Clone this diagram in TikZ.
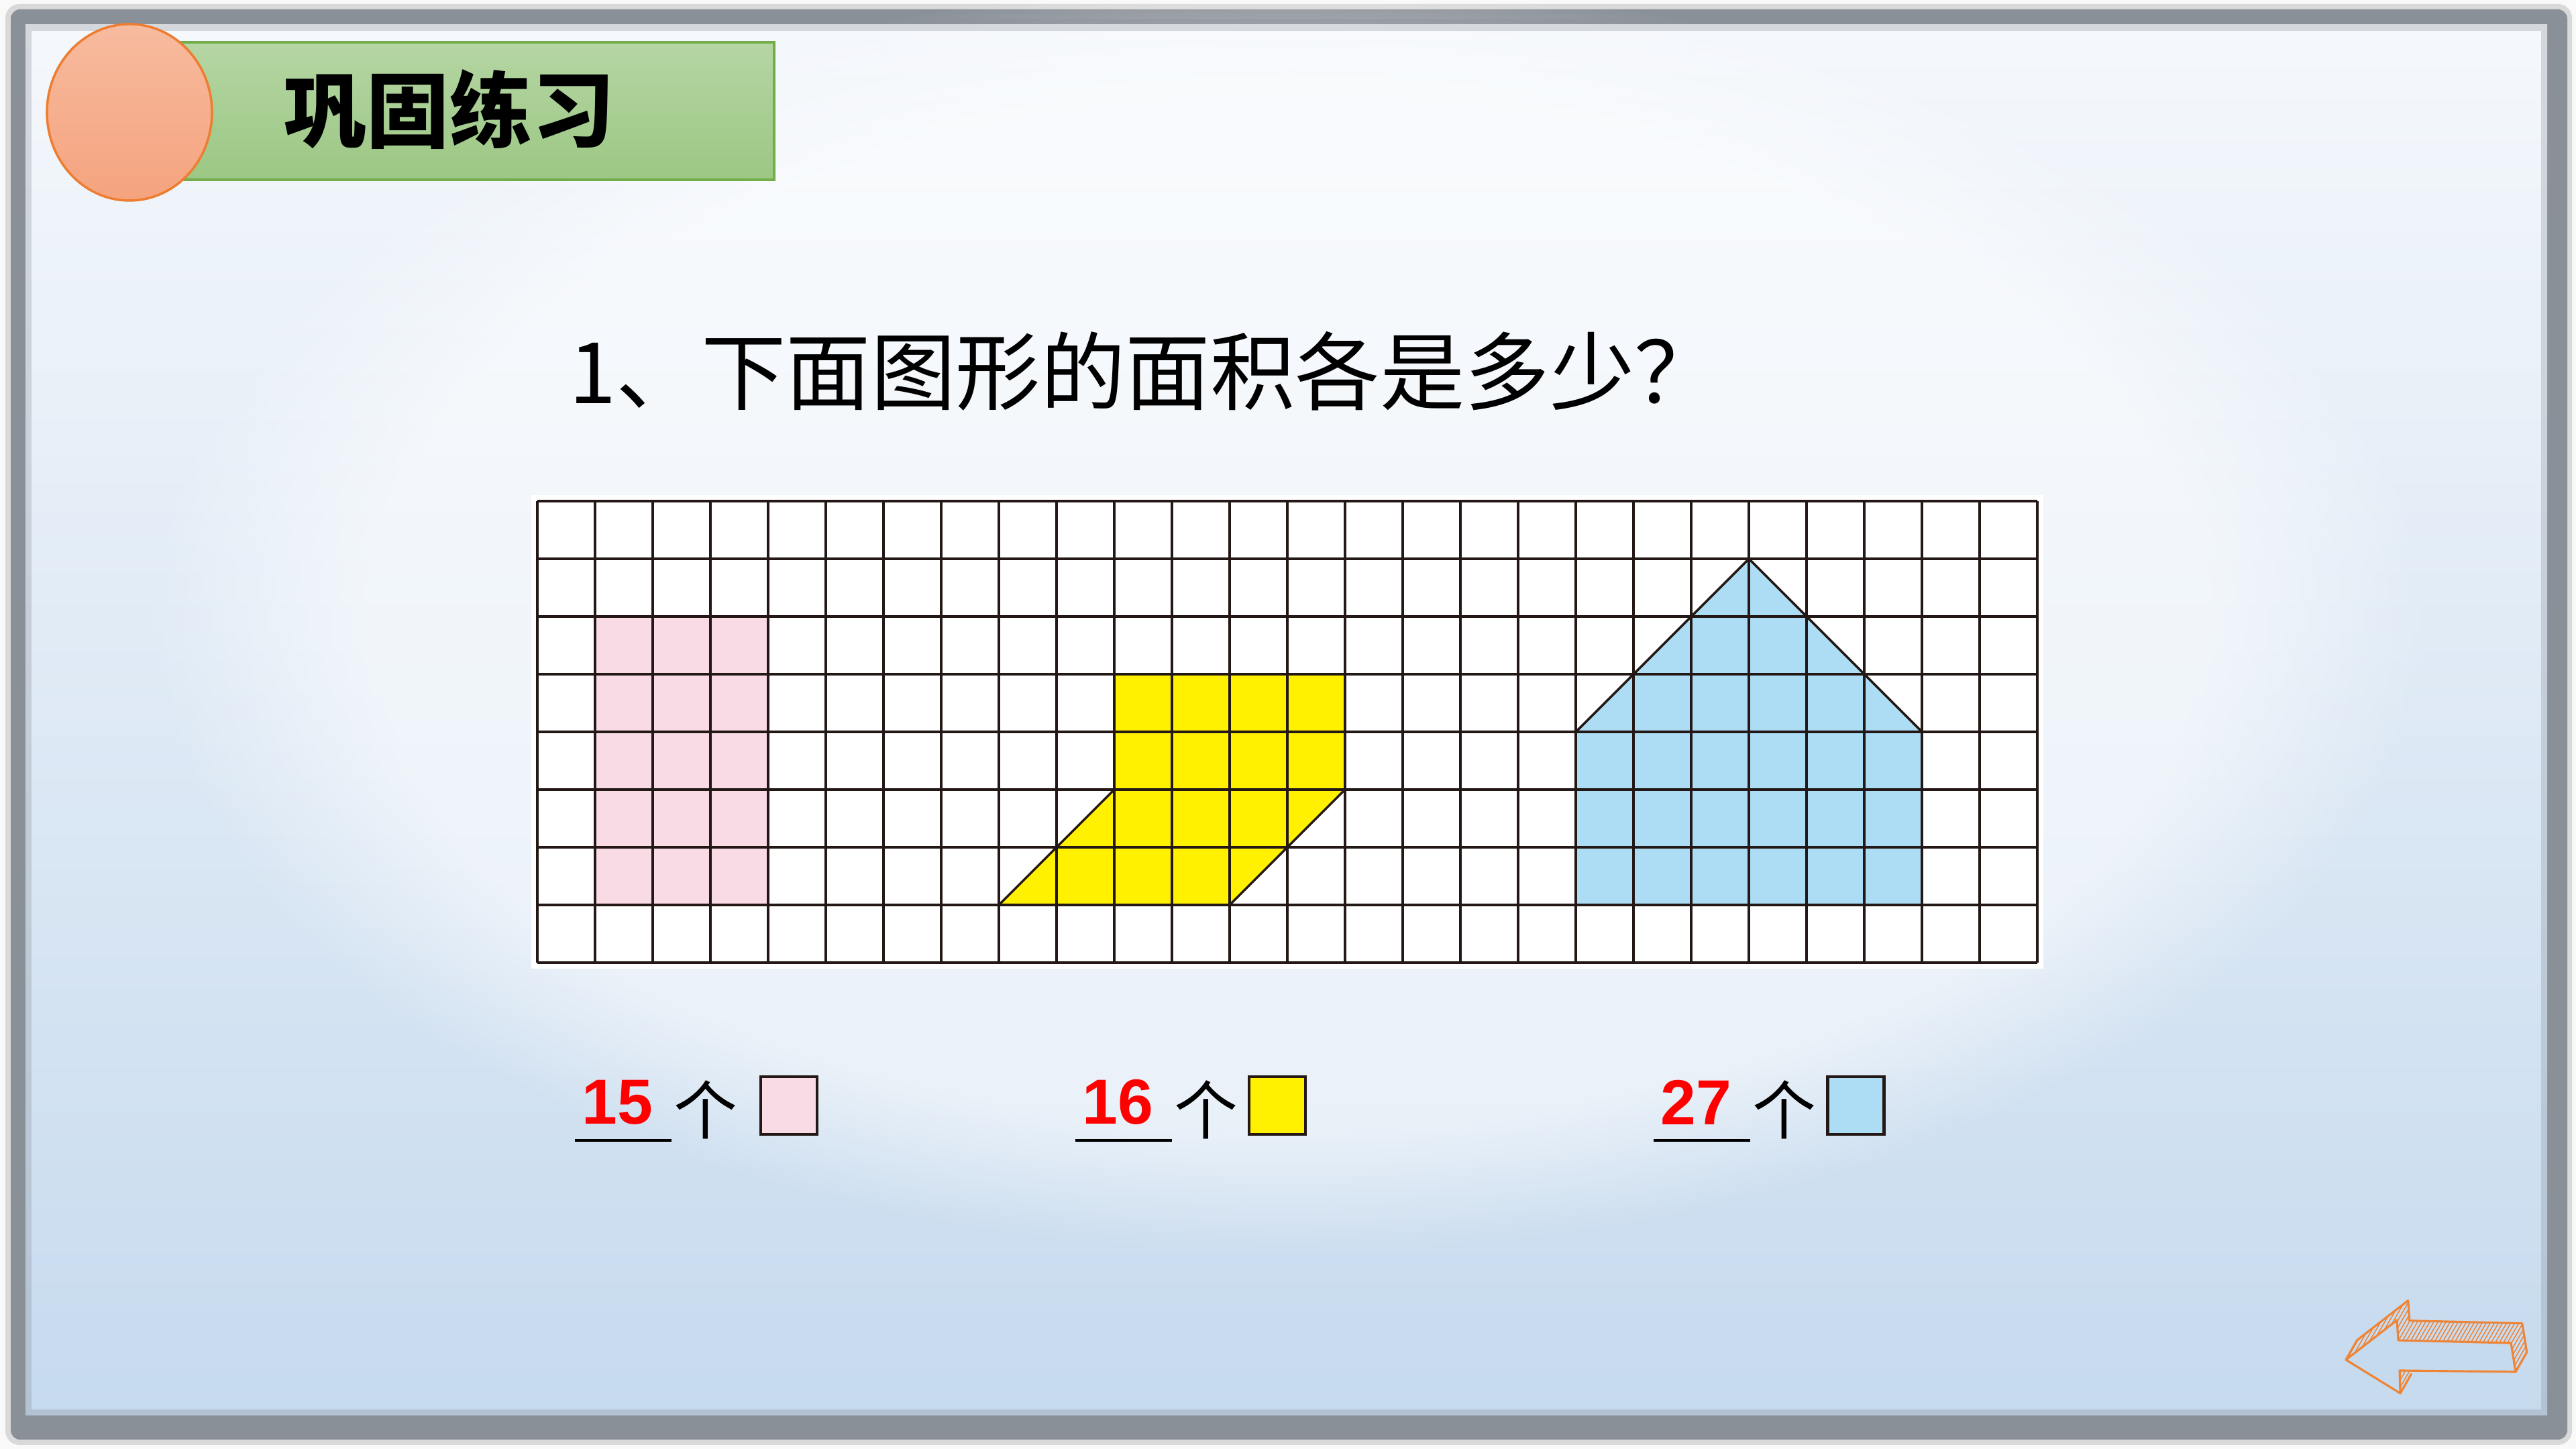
\documentclass[tikz,border=0pt]{standalone}
\usepackage{fontspec}
\newfontfamily\cjk{Noto Sans CJK SC}
\newfontfamily\numfont{Liberation Sans}
\usetikzlibrary{patterns.meta,fadings}
\definecolor{pinkcell}{HTML}{F8DBE5}
\definecolor{yellowcell}{HTML}{FFF100}
\definecolor{bluecell}{HTML}{ACDDF5}
\definecolor{gridink}{HTML}{231815}
\definecolor{framegray}{HTML}{8A9098}
\definecolor{bgtop}{HTML}{F5F8FC}
\definecolor{bgbottom}{HTML}{C6DAEE}
\definecolor{titletop}{HTML}{B5D6A3}
\definecolor{titlebottom}{HTML}{9CC784}
\definecolor{titleborder}{HTML}{72AD4A}
\definecolor{disctop}{HTML}{F7BB9F}
\definecolor{discbottom}{HTML}{F5A37E}
\definecolor{discborder}{HTML}{ED7D31}
\definecolor{arroworange}{HTML}{EE8436}
\definecolor{arrowface}{HTML}{C6DAEE}

\begin{document}
\begin{tikzpicture}

	\tikzstyle grid lines=[line width=1pt, draw=gridink];
	\tikzstyle shape lines=[line width=1pt, draw=gridink, line cap=round];
	\tikzstyle answer box=[draw=gridink, line width=1.2pt, minimum width=0.84cm, minimum height=0.86cm, inner sep=0pt];
	\tikzstyle arrow lines=[draw=arroworange, line width=0.9pt, line join=round];
	\tikzstyle arrow hatch=[pattern={Lines[angle=60,distance=1.5pt,line width=0.35pt]}, pattern color=arroworange];

	\useasboundingbox (0,0) rectangle (38.4,21.6);
	\fill[white!95!gray] (0,0) rectangle (38.4,21.6);
	\fill[gray!30, rounded corners=6pt] (0.08,0.06) rectangle (38.34,21.54);
	\fill[framegray, rounded corners=4pt] (0.16,0.14) rectangle (38.27,21.46);
	\shade[top color=bgtop, bottom color=bgbottom] (0.38,0.50) rectangle (37.97,21.23);
	\fill[white, fill opacity=0.55, path fading=circle with fuzzy edge 20 percent] (19.2,12.4) ellipse (17 and 9.5);
	\draw[framegray, opacity=0.3, line width=5pt] (0.38,0.50) rectangle (37.97,21.23);

	\shade[top color=titletop, bottom color=titlebottom, draw=titleborder, line width=1pt] (2.68,18.92) rectangle (11.54,20.97);
	\shade[top color=disctop, bottom color=discbottom, draw=discborder, line width=1pt] (1.93,19.925) ellipse (1.23 and 1.315);
	\node (title) at (6.70,19.97) {\cjk\bfseries\fontsize{35}{40}\selectfont 巩固练习};

	\node[anchor=west] (question) at (8.36,16.07) {\cjk\fontsize{36}{40}\selectfont 1、下面图形的面积各是多少？};

	\begin{scope}[shift={(8.01,7.25)}, scale=0.86]
		\fill[white] (-0.1,-0.1) rectangle (26.1,8.1);
		\fill[pinkcell] (1,1) rectangle (4,6);
		\fill[yellowcell] (8,1) -- (12,1) -- (14,3) -- (14,5) -- (10,5) -- (10,3) -- cycle;
		\fill[bluecell] (18,1) -- (24,1) -- (24,4) -- (21,7) -- (18,4) -- cycle;
		\foreach \x in {0,...,26}
			\draw[grid lines] (\x,0) -- (\x,8);
		\foreach \y in {0,...,8}
			\draw[grid lines] (0,\y) -- (26,\y);
		\draw[shape lines] (8,1) -- (10,3) (12,1) -- (14,3);
		\draw[shape lines] (18,4) -- (21,7) -- (24,4);
	\end{scope}

	\foreach \u/\n/\c/\b in {8.57/15/pinkcell/11.76, 16.03/16/yellowcell/19.04, 24.65/27/bluecell/27.665} {
		\draw[line width=1.4pt] (\u,4.60) -- ++(1.44,0);
		\node[text=red] (num\n) at (\u+0.63,5.17) {\numfont\bfseries\fontsize{27}{30}\selectfont \n};
		\node (unit\n) at (\u+1.95,5.06) {\cjk\fontsize{27}{30}\selectfont 个};
		\node[answer box, fill=\c] (box\n) at (\b,5.12) {};
	}

	\coordinate (a1) at (34.97,1.33);
	\coordinate (a2) at (35.73,1.92);
	\coordinate (a3) at (35.75,1.62);
	\coordinate (a4) at (37.43,1.58);
	\coordinate (a5) at (37.50,1.15);
	\coordinate (a6) at (35.77,1.17);
	\coordinate (a7) at (35.78,0.83);
	\foreach \i in {1,...,7}
		\coordinate (b\i) at ([shift={(0.167,0.293)}]a\i);
	\fill[arrow hatch] (b1) -- (b2) -- (b3) -- (b4) -- (b5) -- (b6) -- (b7) -- cycle;
	\foreach \i/\j in {1/2,2/3,3/4,4/5,5/6,6/7,7/1}
		\fill[arrow hatch] (a\i) -- (a\j) -- (b\j) -- (b\i) -- cycle;
	\fill[arrowface] (a1) -- (a2) -- (a3) -- (a4) -- (a5) -- (a6) -- (a7) -- cycle;
	\draw[arrow lines] (a1) -- (a2) -- (a3) -- (a4) -- (a5) -- (a6) -- (a7) -- cycle;
	\draw[arrow lines] (a1) -- (b1) -- (b2) -- (b3) -- (b4) -- (b5) -- (a5);
	\draw[arrow lines] (a7) -- (b7);

\end{tikzpicture}
\end{document}
